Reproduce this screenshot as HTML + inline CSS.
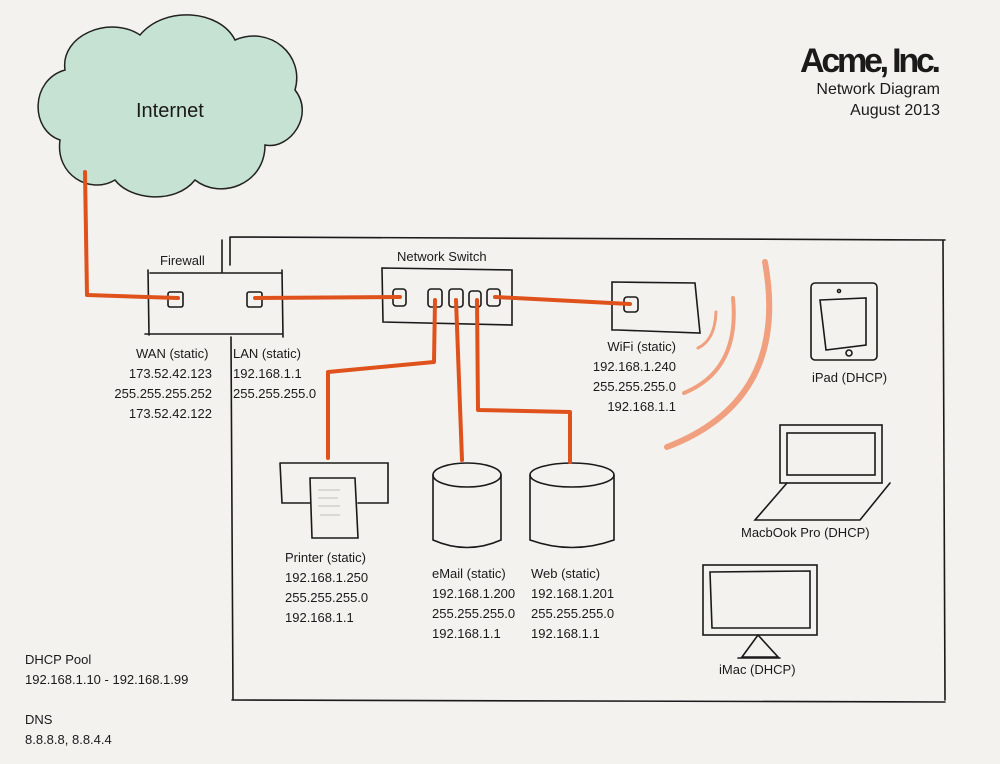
<!DOCTYPE html>
<html><head><meta charset="utf-8"><style>
body{margin:0;background:#f4f2ee;}
svg{display:block}
text{font-family:"Liberation Sans",sans-serif;fill:#1a1a1a;font-size:13px}
</style></head><body>
<svg width="1000" height="764" viewBox="0 0 1000 764">
<rect width="1000" height="764" fill="#f4f2ee"/>
<path d="M60,140 C30,130 30,80 65,70 C60,35 110,15 140,35 C165,5 220,10 235,40 C270,25 305,55 295,90 C315,115 290,150 265,145 C265,185 220,200 195,180 C175,205 130,200 115,180 C90,195 55,175 60,140 Z" fill="#c6e2d2" stroke="#222" stroke-width="1.5"/>
<text x="136" y="117" style="font-size:20px">Internet</text>
<text x="940" y="72" text-anchor="end" style="font-size:34px;font-weight:bold;font-family:'Liberation Sans Narrow','Liberation Sans',sans-serif;letter-spacing:-1px" textLength="140">Acme, Inc.</text>
<text x="940" y="94" text-anchor="end" style="font-size:16px">Network Diagram</text>
<text x="940" y="115" text-anchor="end" style="font-size:16px">August 2013</text>
<g stroke="#1a1a1a" stroke-width="1.6" fill="none" stroke-linecap="round">
<path d="M230,237 L945,240 M943,240 L945,700 M232,700 L945,702 M230,237 L230,265 M231,337 L233,700"/>
<path d="M222,240 L222,272"/>
<path d="M150,273 L282,273 M148,270 L149,335 M145,334 L282,334 M282,270 L283,337"/>
<rect x="168" y="292" width="15" height="15" rx="2"/>
<rect x="247" y="292" width="15" height="15" rx="2"/>
<path d="M382,268 L512,270 L512,325 L383,322 Z"/>
<rect x="393" y="289" width="13" height="17" rx="3"/>
<rect x="428" y="289" width="14" height="18" rx="3"/>
<rect x="449" y="289" width="14" height="18" rx="3"/>
<rect x="469" y="291" width="12" height="16" rx="3"/>
<rect x="487" y="289" width="13" height="17" rx="3"/>
<path d="M612,282 L695,283 L700,333 L618,330 L612,330 Z"/>
<rect x="624" y="297" width="14" height="15" rx="3"/>
<path d="M280,463 L388,463 L388,503 L358,503 M310,503 L282,503 L280,463"/>
<path d="M310,478 L355,478 L358,538 L312,538 Z"/>
<ellipse cx="467" cy="475" rx="34" ry="12"/>
<path d="M433,475 L433,540 Q467,555 501,540 L501,475"/>
<ellipse cx="572" cy="475" rx="42" ry="12"/>
<path d="M530,475 L530,540 Q572,555 614,540 L614,475"/>
<rect x="811" y="283" width="66" height="77" rx="4"/>
<path d="M820,300 L866,298 L866,345 L826,350 Z"/>
<circle cx="839" cy="291" r="1.5"/><circle cx="849" cy="353" r="3"/>
<rect x="780" y="425" width="102" height="58"/>
<rect x="787" y="433" width="88" height="42"/>
<path d="M787,483 L755,520 L860,520 L890,483"/>
<rect x="703" y="565" width="114" height="70"/>
<path d="M710,572 L810,571 L810,628 L712,628 Z"/>
<path d="M758,635 L742,657 L778,657 L758,635 M738,658 L780,658"/>
</g>
<g stroke="#888" stroke-width="0.6">
<path d="M318,490 L340,490 M318,498 L338,498 M318,506 L340,506 M320,515 L340,515"/>
</g>
<g stroke="#e0521c" stroke-width="4" fill="none" stroke-linecap="round" stroke-linejoin="round">
<path d="M85,172 L87,295 L178,298"/>
<path d="M255,298 L400,297"/>
<path d="M495,297 L630,304"/>
<path d="M435,300 L434,362 L328,372 L328,458"/>
<path d="M456,300 L462,460"/>
<path d="M477,300 L478,410 L570,412 L570,462"/>
</g>
<g stroke="#f0a07e" fill="none" stroke-linecap="round">
<path d="M698,348 Q715,340 716,312" stroke-width="3"/>
<path d="M684,393 Q740,370 733,298" stroke-width="4"/>
<path d="M667,447 Q790,400 765,262" stroke-width="6"/>
</g>
<text x="160" y="265">Firewall</text>
<text x="397" y="261">Network Switch</text>
<text x="136" y="358">WAN (static)</text>
<text x="212" y="378" text-anchor="end">173.52.42.123</text>
<text x="212" y="398" text-anchor="end">255.255.255.252</text>
<text x="212" y="418" text-anchor="end">173.52.42.122</text>
<text x="233" y="358">LAN (static)</text>
<text x="233" y="378">192.168.1.1</text>
<text x="233" y="398">255.255.255.0</text>
<text x="676" y="351" text-anchor="end">WiFi (static)</text>
<text x="676" y="371" text-anchor="end">192.168.1.240</text>
<text x="676" y="391" text-anchor="end">255.255.255.0</text>
<text x="676" y="411" text-anchor="end">192.168.1.1</text>
<text x="812" y="382">iPad (DHCP)</text>
<text x="741" y="537">MacbOok Pro (DHCP)</text>
<text x="719" y="674">iMac (DHCP)</text>
<text x="285" y="562">Printer (static)</text>
<text x="285" y="582">192.168.1.250</text>
<text x="285" y="602">255.255.255.0</text>
<text x="285" y="622">192.168.1.1</text>
<text x="432" y="578">eMail (static)</text>
<text x="432" y="598">192.168.1.200</text>
<text x="432" y="618">255.255.255.0</text>
<text x="432" y="638">192.168.1.1</text>
<text x="531" y="578">Web (static)</text>
<text x="531" y="598">192.168.1.201</text>
<text x="531" y="618">255.255.255.0</text>
<text x="531" y="638">192.168.1.1</text>
<text x="25" y="664">DHCP Pool</text>
<text x="25" y="684">192.168.1.10 - 192.168.1.99</text>
<text x="25" y="724">DNS</text>
<text x="25" y="744">8.8.8.8, 8.8.4.4</text>
</svg>
</body></html>
